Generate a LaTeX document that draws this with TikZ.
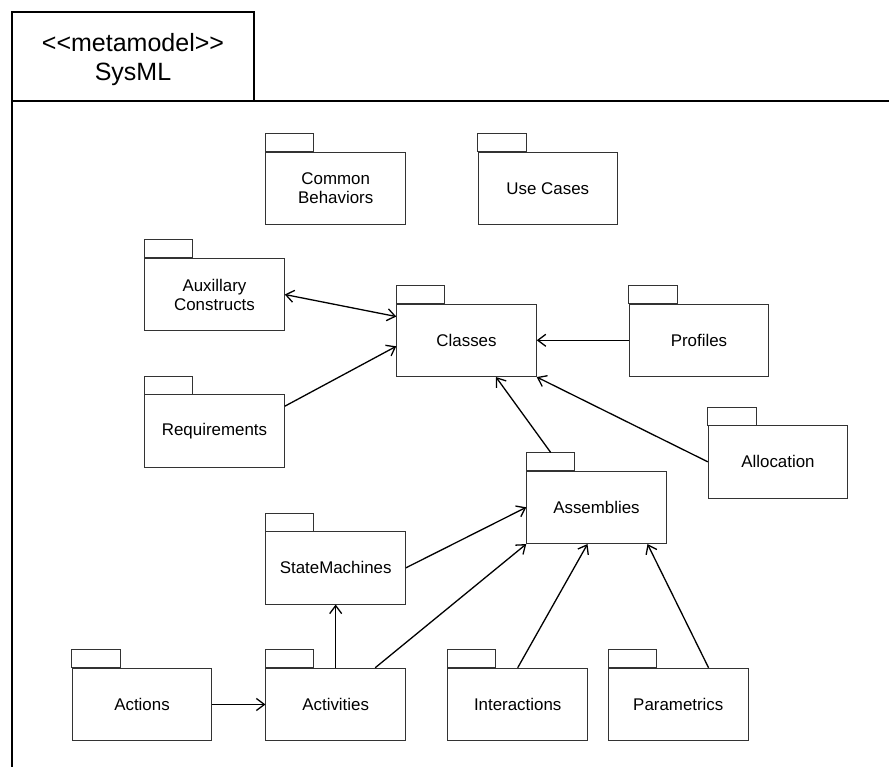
\documentclass[tikz,border=0pt]{standalone}
\usepackage{fontspec}
\setmainfont{Liberation Sans}
\usetikzlibrary{arrows.meta,calc}

\tikzset{
  pkg/.style={draw=black!80, line width=1pt, rectangle, minimum width=139.5pt,
    minimum height=72.5pt, inner sep=0pt, align=center,
    font=\fontsize{16.9}{19}\selectfont},
  pkgtab/.style={draw=black!80, line width=1pt},
  frameline/.style={draw=black, line width=2pt},
  dep/.style={draw=black, line width=1.3pt, -{Straight Barb[length=8pt,width=12pt]}},
  dep2/.style={draw=black, line width=1.3pt, {Straight Barb[length=8pt,width=12pt]}-{Straight Barb[length=8pt,width=12pt]}}
}

\begin{document}
\begin{tikzpicture}[x=1pt, y=-1pt]
  \useasboundingbox (0,0) rectangle (889,767);

  % metamodel frame with its heading box
  \draw[frameline] (12,12) rectangle (254,101);
  \draw[frameline] (889,101) -- (12,101) -- (12,767);
  \node[align=center, font=\fontsize{25}{28.3}\selectfont] (title) at (133,59.6)
    {<{}<metamodel>{}>\\SysML};

  % packages
  \node[pkg] (common) at (335.7,188.5) {Common\\Behaviors};
  \node[pkg] (usecases) at (547.8,188.5) {Use Cases};
  \node[pkg] (aux) at (214.5,294.5) {Auxillary\\Constructs};
  \node[pkg] (classes) at (466.5,340.3) {Classes};
  \node[pkg] (profiles) at (699,340.3) {Profiles};
  \node[pkg] (req) at (214.5,431) {Requirements};
  \node[pkg] (alloc) at (778,461.8) {Allocation};
  \node[pkg] (asm) at (596.5,507.3) {Assemblies};
  \node[pkg] (sm) at (335.7,567.8) {StateMachines};
  \node[pkg] (actions) at (142,704.5) {Actions};
  \node[pkg] (act) at (335.7,704.5) {Activities};
  \node[pkg] (inter) at (517.7,704.5) {Interactions};
  \node[pkg] (param) at (678.3,704.5) {Parametrics};

  % package tabs
  \foreach \p in {common,usecases,aux,classes,profiles,req,alloc,asm,sm,actions,act,inter,param}
    \draw[pkgtab] (\p.north west) rectangle ++(48.5,-18);

  % dependencies
  \draw[dep2] (aux.east) -- ($(classes.north west)+(0,13)$);
  \draw[dep] ($(req.north east)+(0,12)$) -- ($(classes.west)+(0,6)$);
  \draw[dep] (profiles.west) -- (classes.east);
  \draw[dep] (alloc.west) -- (classes.south east);
  \draw[dep] ($(asm.north west)+(24.5,-18)$) -- ($(classes.south)+(29.5,0)$);
  \draw[dep] (sm.east) -- (asm.west);
  \draw[dep] ($(act.north)+(39.5,0)$) -- (asm.south west);
  \draw[dep] (act.north) -- (sm.south);
  \draw[dep] (inter.north) -- ($(asm.south)+(-9,0)$);
  \draw[dep] ($(param.north east)+(-40,0)$) -- ($(asm.south)+(51,0)$);
  \draw[dep] (actions.east) -- (act.west);
\end{tikzpicture}
\end{document}
